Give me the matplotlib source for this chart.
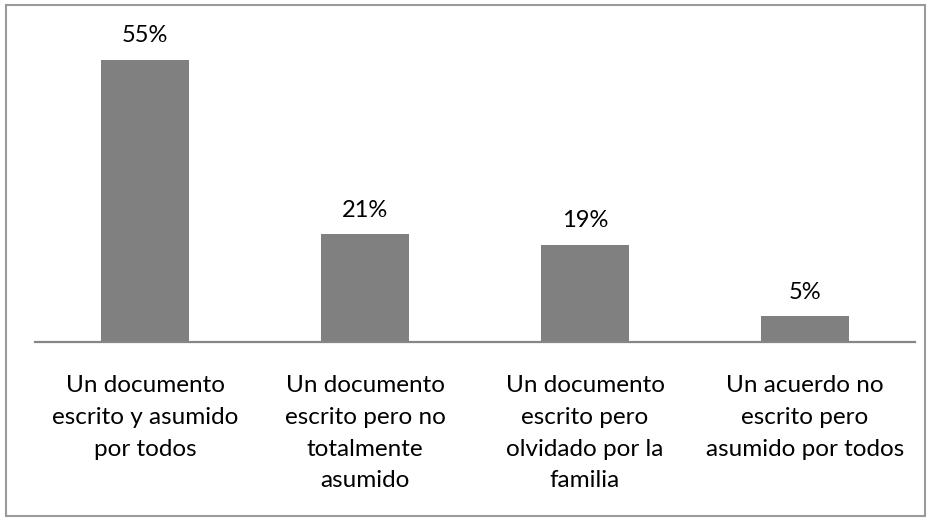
import matplotlib
matplotlib.use("Agg")
import matplotlib.pyplot as plt
from matplotlib.patches import Rectangle

categories = [
    "Un documento\nescrito y asumido\npor todos",
    "Un documento\nescrito pero no\ntotalmente\nasumido",
    "Un documento\nescrito pero\nolvidado por la\nfamilia",
    "Un acuerdo no\nescrito pero\nasumido por todos",
]
values = [55, 21, 19, 5]
value_labels = ["55%", "21%", "19%", "5%"]

plt.rcParams['font.family'] = ['Lato', 'DejaVu Sans']

fig = plt.figure(figsize=(9.32, 5.22), dpi=100)
W, H = 932, 522
ax = fig.add_axes([35 / W, 1 - 342 / H, 880 / W, (342 - 34.4) / H])

x = list(range(len(values)))
ax.bar(x, values, width=0.4, color='#808080', zorder=2)
ax.set_xlim(-0.5, len(values) - 0.5)
ax.set_ylim(0, 60)

for xi, v, lab in zip(x, values, value_labels):
    ax.annotate(lab, (xi, v), xytext=(0, 17.5), textcoords='offset points',
                ha='center', va='center', fontsize=17, color='#000000')

ax.set_xticks(x)
ax.set_xticklabels(categories, fontsize=17.5, linespacing=1.63, va='top')
ax.tick_params(axis='x', length=0, pad=24)
ax.set_yticks([])
for s in ['top', 'right', 'left']:
    ax.spines[s].set_visible(False)
ax.spines['bottom'].set_color('#868686')
ax.spines['bottom'].set_linewidth(1.6)

fig.patches.append(Rectangle((6 / W, 1 - 516 / H), (925 - 6) / W, (516 - 5) / H,
                             transform=fig.transFigure, fill=False,
                             edgecolor='#9a9a9a', linewidth=1.5))

fig.savefig("out.png", dpi=100)
